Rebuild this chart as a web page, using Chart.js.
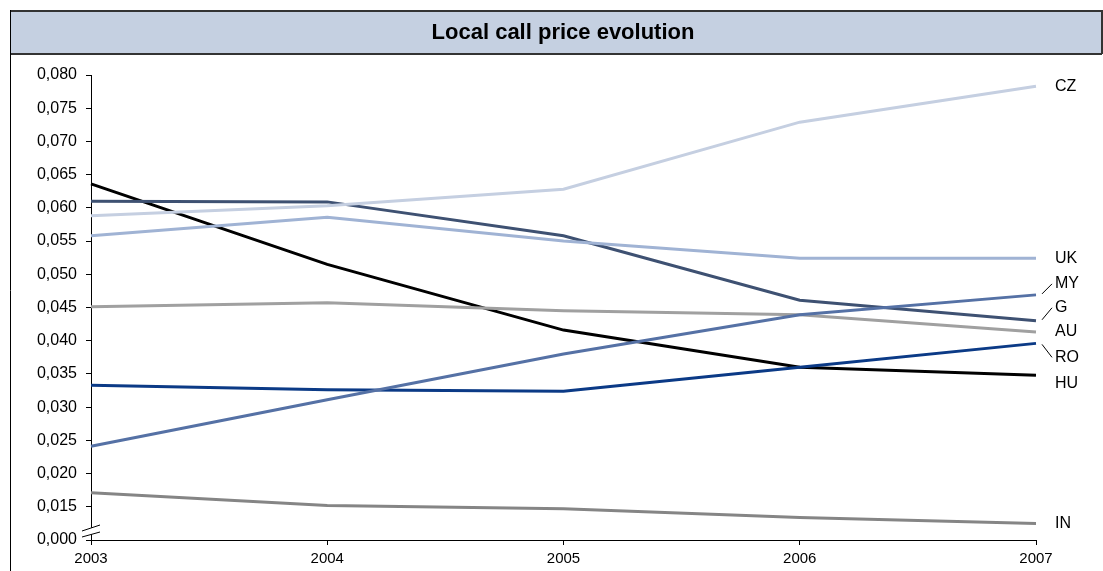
<!DOCTYPE html>
<html>
<head>
<meta charset="utf-8">
<script src="https://cdn.jsdelivr.net/npm/chart.js@4/dist/chart.umd.min.js"></script>
<style>
    html, body { margin: 0; padding: 0; background: #fff; }
    #wrap { position: relative; width: 1103px; height: 571px; }
</style>
</head>
<body>
<div id="wrap"><canvas id="priceChart" width="1103" height="571"></canvas></div>
<script>
const years = ['2003', '2004', '2005', '2006', '2007'];

// the bottom tick (0,010 on the scale) is labelled 0,000 because of the axis break
const breakValue = 0.010;

const czValues = [0.0588, 0.0603, 0.0628, 0.0729, 0.0783];
const ukValues = [0.0558, 0.0586, 0.0550, 0.0524, 0.0524];
const myValues = [0.0241, 0.0311, 0.0380, 0.0439, 0.0469];
const gValues  = [0.0610, 0.0609, 0.0558, 0.0461, 0.0430];
const auValues = [0.0451, 0.0457, 0.0445, 0.0439, 0.0413];
const roValues = [0.0333, 0.0326, 0.0324, 0.0360, 0.0396];
const huValues = [0.0636, 0.0515, 0.0416, 0.0360, 0.0348];
const inValues = [0.0171, 0.0152, 0.0147, 0.0134, 0.0125];

const seriesNames = ['CZ', 'UK', 'MY', 'G', 'AU', 'RO', 'HU', 'IN'];
const seriesValues = [czValues, ukValues, myValues, gValues, auValues, roValues, huValues, inValues];
const seriesColors = ['#c5cfe1', '#a0b3d4', '#5571a5', '#3e5172', '#a0a0a0', '#0b3a86', '#000000', '#858585'];

// pixel nudges for end labels, and which ones get a leader line
const labelNudge = { MY: -11, G: -13, RO: 14, HU: 8 };
const leaderLabels = ['MY', 'G', 'RO'];

const FONT = '"Liberation Sans", Arial, sans-serif';

const framePlugin = {
    id: 'frame',
    beforeDraw(chart) {
        const ctx = chart.ctx;
        ctx.save();
        ctx.fillStyle = '#c5d0e1';
        ctx.fillRect(10, 10, 1092, 44);
        ctx.strokeStyle = '#333';
        ctx.lineWidth = 2;
        ctx.beginPath();
        ctx.moveTo(10, 11);
        ctx.lineTo(1102, 11);
        ctx.lineTo(1102, 54);
        ctx.moveTo(10, 54);
        ctx.lineTo(1102, 54);
        ctx.stroke();
        ctx.lineWidth = 1;
        ctx.strokeStyle = '#000';
        ctx.beginPath();
        ctx.moveTo(10.5, 10);
        ctx.lineTo(10.5, 571);
        ctx.stroke();
        ctx.fillStyle = '#000';
        ctx.font = 'bold 22px ' + FONT;
        ctx.textAlign = 'center';
        ctx.textBaseline = 'middle';
        ctx.fillText('Local call price evolution', 563, 33);
        ctx.restore();
    },
    afterDraw(chart) {
        const ctx = chart.ctx;
        const x = chart.scales.x;
        const y = chart.scales.y;
        ctx.save();

        // axis break marks
        const ax = x.left;
        ctx.fillStyle = '#fff';
        ctx.beginPath();
        ctx.moveTo(ax - 9, 531);
        ctx.lineTo(ax + 9, 525);
        ctx.lineTo(ax + 9, 532);
        ctx.lineTo(ax - 9, 537);
        ctx.closePath();
        ctx.fill();
        ctx.strokeStyle = '#000';
        ctx.lineWidth = 1;
        ctx.beginPath();
        ctx.moveTo(ax - 9, 531);
        ctx.lineTo(ax + 9, 525);
        ctx.moveTo(ax - 9, 537);
        ctx.lineTo(ax + 9, 532);
        ctx.stroke();

        // end labels
        ctx.font = '16px ' + FONT;
        ctx.textAlign = 'left';
        ctx.textBaseline = 'middle';
        ctx.fillStyle = '#000';
        const lastX = x.getPixelForValue(years.length - 1);
        seriesNames.forEach((name, i) => {
            const vals = seriesValues[i];
            const py = y.getPixelForValue(vals[vals.length - 1]);
            const dy = labelNudge[name] || 0;
            if (leaderLabels.includes(name)) {
                ctx.beginPath();
                ctx.moveTo(lastX + 6, py + (dy < 0 ? -1 : 1));
                ctx.lineTo(lastX + 16, py + dy);
                ctx.stroke();
            }
            ctx.fillText(name, lastX + 19, py + dy);
        });
        ctx.restore();
    }
};

new Chart(document.getElementById('priceChart'), {
    type: 'line',
    data: {
        labels: years,
        datasets: seriesNames.map((name, i) => ({
            label: name,
            data: seriesValues[i],
            borderColor: seriesColors[i],
            borderWidth: 3,
            pointRadius: 0,
            tension: 0,
            fill: false
        }))
    },
    options: {
        responsive: false,
        animation: false,
        layout: { padding: { top: 75, right: 67, left: 0, bottom: 0 } },
        plugins: {
            legend: { display: false },
            tooltip: { enabled: false }
        },
        scales: {
            x: {
                offset: false,
                afterFit(scale) { scale.height = 31; },
                grid: { drawOnChartArea: false, drawTicks: true, tickLength: 5, color: '#000' },
                border: { display: true, color: '#000', width: 1 },
                ticks: { color: '#000', font: { family: FONT, size: 15 }, padding: 5, maxRotation: 0 }
            },
            y: {
                min: breakValue,
                max: 0.080,
                afterFit(scale) { scale.width = 91; },
                afterBuildTicks(scale) {
                    const ticks = [];
                    for (let k = 0; k <= 14; k++) {
                        ticks.push({ value: +(breakValue + k * 0.005).toFixed(3) });
                    }
                    scale.ticks = ticks;
                },
                grid: { drawOnChartArea: false, drawTicks: true, tickLength: 5, color: '#000' },
                border: { display: true, color: '#000', width: 1 },
                ticks: {
                    color: '#000',
                    font: { family: FONT, size: 16 },
                    padding: 9,
                    callback: function (v) {
                        if (Math.abs(v - breakValue) < 1e-9) {
                            return '0,000';
                        }
                        return v.toFixed(3).replace('.', ',');
                    }
                }
            }
        }
    },
    plugins: [framePlugin]
});
</script>
</body>
</html>
